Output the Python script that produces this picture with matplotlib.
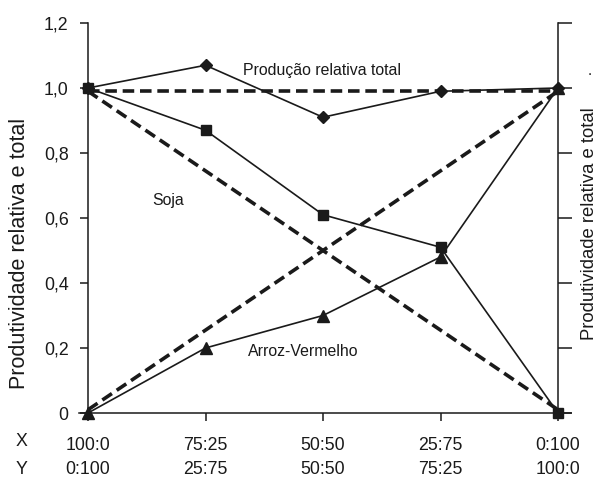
import matplotlib
matplotlib.use("Agg")
import matplotlib.pyplot as plt
from matplotlib.lines import Line2D
from matplotlib.transforms import blended_transform_factory

plt.rcParams['font.family'] = ['Liberation Sans', 'DejaVu Sans']

# ---- data ----
proporcoes_x = ["100:0", "75:25", "50:50", "25:75", "0:100"]
proporcoes_y = ["0:100", "25:75", "50:50", "75:25", "100:0"]
producao_total = [1.0, 1.07, 0.91, 0.99, 1.0]
soja = [1.0, 0.87, 0.61, 0.51, 0.0]
arroz_vermelho = [0.0, 0.20, 0.30, 0.48, 1.0]
esperado_total = [0.99, 0.99]
esperado_soja = [0.99, 0.01]
esperado_arroz = [0.01, 0.99]
yticks = [0, 0.2, 0.4, 0.6, 0.8, 1.0, 1.2]
ytick_labels = ["0", "0,2", "0,4", "0,6", "0,8", "1,0", "1,2"]

W, H = 597, 478
fig = plt.figure(figsize=(W / 100, H / 100), dpi=100)
ax = fig.add_axes([88 / W, 1 - 413 / H, (558 - 88) / W, (413 - 23) / H])

xs = list(range(len(proporcoes_x)))
ends = [xs[0], xs[-1]]
ink = '#1a1a1a'

dash = dict(color=ink, lw=2.6, ls=(0, (3.2, 1.6)), dash_capstyle='butt')
ax.plot(ends, esperado_total, **dash, clip_on=False)
ax.plot(ends, esperado_soja, **dash, clip_on=False)
ax.plot(ends, esperado_arroz, **dash, clip_on=False)

ax.plot(xs, producao_total, color=ink, lw=1.2, marker='D', ms=6, clip_on=False, zorder=3)
ax.plot(xs, soja, color=ink, lw=1.2, marker='s', ms=7, clip_on=False, zorder=3)
ax.plot(xs, arroz_vermelho, color=ink, lw=1.2, marker='^', ms=8, clip_on=False, zorder=3)

ax.set_xlim(xs[0], xs[-1])
ax.set_ylim(0, 1.2)

ax.spines['top'].set_visible(False)
ax.spines['bottom'].set_visible(False)
ax.spines['right'].set_visible(False)
ax.spines['left'].set_color(ink)
ax.spines['left'].set_linewidth(1.1)
ax.add_line(Line2D([-0.02, 1.028], [0, 0], transform=ax.transAxes, color=ink, lw=1.1, clip_on=False))

ax.set_yticks(yticks)
ax.set_yticklabels(ytick_labels, fontsize=12.8, color=ink)
ax.tick_params(axis='y', direction='out', length=6, width=1.1, color=ink, pad=8,
               left=True, right=False)
ax.set_xticks(xs)
ax.set_xticklabels(proporcoes_x, fontsize=12.8, color=ink)
ax.tick_params(axis='x', direction='out', length=6, width=1.1, color=ink, pad=11)

# second row of x labels (Y proportions)
trans = blended_transform_factory(ax.transData, fig.transFigure)
for x, lab in zip(xs, proporcoes_y):
    ax.text(x, 1 - 469 / H, lab, transform=trans, fontsize=12.8, color=ink,
            ha='center', va='center')

# right axis with ticks only
ax2 = ax.twinx()
ax2.set_ylim(0, 1.2)
ax2.set_yticks(yticks)
ax2.set_yticklabels([])
ax2.tick_params(axis='y', direction='out', length=10, width=1.1, color=ink)
for s in ['top', 'bottom', 'left']:
    ax2.spines[s].set_visible(False)
ax2.spines['right'].set_color(ink)
ax2.spines['right'].set_linewidth(1.1)

# row labels
fig.text(22 / W, 1 - 442 / H, "X", fontsize=12.8, color=ink, ha='center', va='center')
fig.text(22 / W, 1 - 469 / H, "Y", fontsize=12.8, color=ink, ha='center', va='center')

# axis labels
fig.text(20 / W, 1 - 253 / H, "Produtividade relativa e total", rotation=90, fontsize=15.5,
         color=ink, ha='center', va='center')
fig.text(589 / W, 1 - 224 / H, "Produtividade relativa e total", rotation=90, fontsize=13.3,
         color=ink, ha='center', va='center')
fig.text(590 / W, 1 - 78 / H, ".", fontsize=11, color=ink, ha='center', va='bottom')

# annotations
fig.text(322 / W, 1 - 71 / H, "Produção relativa total", fontsize=11.4, color=ink, ha='center', va='center')
fig.text(168 / W, 1 - 200 / H, "Soja", fontsize=11.4, color=ink, ha='center', va='center')
fig.text(303 / W, 1 - 352 / H, "Arroz-Vermelho", fontsize=11.4, color=ink, ha='center', va='center')

fig.savefig("out.png", dpi=100)
